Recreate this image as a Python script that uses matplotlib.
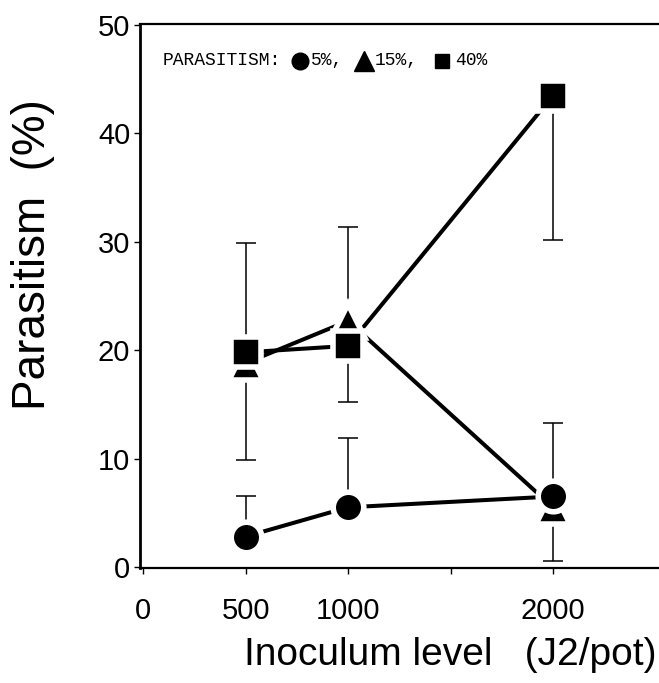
import matplotlib.pyplot as plt

# inoculum levels (J2/pot)
levels = [500, 1000, 2000]

# mean parasitism (%) for each soil parasitism level
p5 = [2.8, 5.5, 6.5]
p15 = [18.8, 22.7, 5.5]
p40 = [19.8, 20.4, 43.5]

# one-sided error bars (lower, upper)
p5_err = [[0, 0, 0], [3.7, 6.4, 6.8]]
p15_err = [[8.9, 0, 4.95], [0, 8.7, 0]]
p40_err = [[0, 5.2, 13.3], [10.1, 0, 0]]

xticks = [0, 500, 1000, 1500, 2000]
xticklabels = ['0', '500', '1000', '', '2000']
yticks = [0, 10, 20, 30, 40, 50]

sans = 'Liberation Sans'
mono = 'Liberation Mono'

fig = plt.figure(figsize=(6.59, 6.83), dpi=100)
ax = fig.add_axes([140 / 659, 1 - 568 / 683, 519 / 659, 544 / 683])

# drawing order: triangles lowest, then circles, then squares
series = [(p15, p15_err, '^', 24), (p5, p5_err, 'o', 22), (p40, p40_err, 's', 21)]

# lines and error bars underneath
for vals, err, m, ms in series:
    ax.plot(levels, vals, color='black', lw=2.9, zorder=2, solid_capstyle='butt')
    ax.errorbar(levels, vals, yerr=err, fmt='none', ecolor='black',
                elinewidth=1.1, capsize=7, capthick=1.1, zorder=1)

# markers on top with a white rim, gives the small gaps
for i, (vals, err, m, ms) in enumerate(series):
    ax.plot(levels, vals, linestyle='none', marker=m, ms=ms,
            markerfacecolor='black', markeredgecolor='white', mew=4, zorder=4 + i)

ax.set_xlim(-15, 2517)
ax.set_ylim(-0.1, 50.1)
ax.set_xticks(xticks)
ax.set_xticklabels(xticklabels, fontsize=21, family=sans)
ax.set_yticks(yticks)
ax.set_yticklabels([str(v) for v in yticks], fontsize=21, family=sans)
ax.tick_params(axis='x', length=4, width=1, pad=17)
ax.tick_params(axis='y', length=4, width=1, pad=3)
ax.spines['left'].set_linewidth(2)
ax.spines['top'].set_linewidth(1.6)
ax.spines['bottom'].set_linewidth(1.6)
ax.spines['right'].set_visible(False)

fig.text(33 / 659, 1 - 255 / 683, 'Parasitism  (%)', rotation=90, ha='center',
         va='center', fontsize=33, family=sans)
fig.text(450 / 659, 1 - 655 / 683, 'Inoculum level   (J2/pot)', ha='center',
         va='center', fontsize=28, family=sans)

# key along the top
ky = 0.932
ax.text(0.044, ky, 'PARASITISM:', transform=ax.transAxes, family=mono,
        fontsize=13, va='center', ha='left')
key = [('o', 12, 0.308, '5%,', 0.329),
       ('^', 15, 0.432, '15%,', 0.452),
       ('s', 10.5, 0.582, '40%', 0.607)]
for m, ms, mx, lab, tx in key:
    ax.plot([mx], [ky], marker=m, ms=ms, color='black', transform=ax.transAxes,
            clip_on=False)
    ax.text(tx, ky, lab, transform=ax.transAxes, family=mono, fontsize=13,
            va='center', ha='left')

fig.savefig('out.png', dpi=100)
